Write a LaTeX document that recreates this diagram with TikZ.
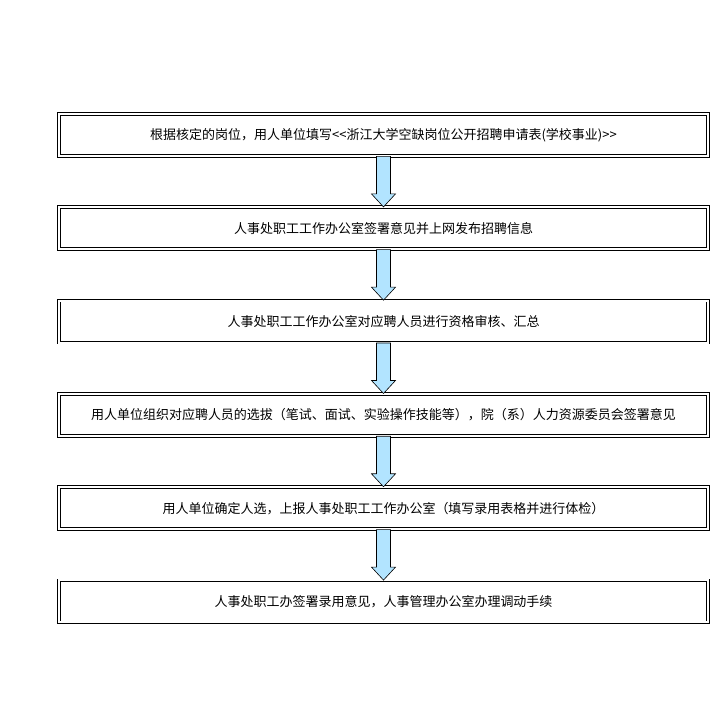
\documentclass[tikz,border=0pt]{standalone}
\usepackage{fontspec}
\newfontfamily\cjk{Noto Sans CJK SC}
\usetikzlibrary{calc,positioning}
\tikzset{stepbox/.style={draw,double,line width=0.8pt,double distance=2pt,minimum width=649pt,minimum height=42pt,inner sep=0pt,font=\cjk\fontsize{13pt}{15pt}\selectfont},
  flowarrow/.style={draw=black,line width=0.6pt,fill=blue!35!cyan!30}}
\newcommand{\flowdown}[2]{%
  \path[flowarrow] let \p1=(#1.south), \p2=(#2.north) in
    (\x1-7pt,\y1) -- (\x1+7pt,\y1) -- (\x1+7pt,\y2+13pt) -- (\x1+12pt,\y2+13pt)
    -- (\x1,\y2) -- (\x1-12pt,\y2+13pt) -- (\x1-7pt,\y2+13pt) -- cycle;}
\begin{document}
\begin{tikzpicture}[x=1pt,y=1pt]
\useasboundingbox (0,0) rectangle (726,718);
\node[stepbox] (s1) at (383.5,583) {根据核定的岗位，用人单位填写<<浙江大学空缺岗位公开招聘申请表(学校事业)>>};
\node[stepbox,below=50.5pt of s1] (s2) {人事处职工工作办公室签署意见并上网发布招聘信息};
\node[stepbox,below=50.5pt of s2] (s3) {人事处职工工作办公室对应聘人员进行资格审核、汇总};
\node[stepbox,below=50.5pt of s3] (s4) {用人单位组织对应聘人员的选拔（笔试、面试、实验操作技能等），院（系）人力资源委员会签署意见};
\node[stepbox,below=50.5pt of s4] (s5) {用人单位确定人选，上报人事处职工工作办公室（填写录用表格并进行体检）};
\node[stepbox,below=50.5pt of s5] (s6) {人事处职工办签署录用意见，人事管理办公室办理调动手续};
\foreach \a/\b in {s1/s2,s2/s3,s3/s4,s4/s5,s5/s6}{
  \flowdown{\a}{\b}
}
\end{tikzpicture}
\end{document}
